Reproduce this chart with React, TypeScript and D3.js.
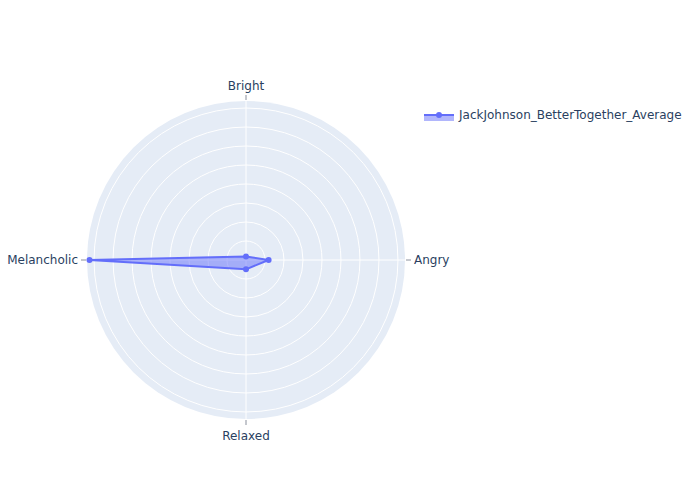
import React from "react";
import * as d3 from "d3";

const categories = ["Angry", "Bright", "Melancholic", "Relaxed"];
const values = [0.119, 0.018, 0.824, 0.049];
const radialTicks = [0.1, 0.2, 0.3, 0.4, 0.5, 0.6, 0.7, 0.8];
const seriesName = "JackJohnson_BetterTogether_Average";

const width = 700;
const height = 500;
const cx = 246;
const cy = 260;
const outerR = 159;
const color = "#636efa";
const font = '"DejaVu Sans", sans-serif';

const App = () => {
    const rScale = d3.scaleLinear().domain([0, 0.837]).range([0, outerR]);
    // plotly style: first category at east, counterclockwise
    const angle = (i: number) => (i * 2 * Math.PI) / categories.length;
    const px = (i: number, r: number) => cx + r * Math.cos(angle(i));
    const py = (i: number, r: number) => cy - r * Math.sin(angle(i));

    const pts: [number, number][] = values.map((v, i) => [px(i, rScale(v)), py(i, rScale(v))]);
    const area = d3.line().curve(d3.curveLinearClosed)(pts) || "";

    return (
        <svg width={width} height={height} style={{display: "block", position: "absolute", left: 0, top: 0}}>
            <rect width={width} height={height} fill="white"/>
            <circle cx={cx} cy={cy} r={outerR} fill="#e5ecf6"/>
            {radialTicks.map(t => (
                <circle key={t} cx={cx} cy={cy} r={rScale(t)} fill="none" stroke="white" strokeWidth={1}/>
            ))}
            {categories.map((c, i) => (
                <line key={c} x1={cx} y1={cy} x2={px(i, outerR)} y2={py(i, outerR)} stroke="white" strokeWidth={1}/>
            ))}
            {categories.map((c, i) => (
                <line key={"t" + c} x1={px(i, outerR + 1)} y1={py(i, outerR + 1)} x2={px(i, outerR + 6)}
                      y2={py(i, outerR + 6)} stroke="#8a8f9c" strokeWidth={1}/>
            ))}
            {categories.map((c, i) => {
                const cosA = Math.cos(angle(i));
                const sinA = Math.sin(angle(i));
                const anchor = Math.abs(cosA) < 0.01 ? "middle" : cosA > 0 ? "start" : "end";
                const r = Math.abs(cosA) < 0.01 ? (sinA > 0 ? 174 : 176) : 168;
                return (
                    <text key={"l" + c} x={px(i, r)} y={py(i, r)} dy="0.35em" textAnchor={anchor}
                          fill="#2a3f5f" style={{fontSize: "12px", fontFamily: font}}>
                        {c}
                    </text>
                );
            })}
            <path d={area} fill={color} fillOpacity={0.5} stroke={color} strokeWidth={2} strokeLinejoin="round"/>
            {pts.map((p, i) => (
                <circle key={i} cx={p[0]} cy={p[1]} r={3} fill={color}/>
            ))}
            <g transform="translate(424, 115)">
                <rect x={0} y={0} width={30} height={6} fill={color} fillOpacity={0.5}/>
                <line x1={0} y1={0} x2={30} y2={0} stroke={color} strokeWidth={2}/>
                <circle cx={15} cy={0} r={3} fill={color}/>
                <text x={35} y={0} dy="0.35em" fill="#2a3f5f" style={{fontSize: "12px", fontFamily: font}}>
                    {seriesName}
                </text>
            </g>
        </svg>
    );
};

export default App;
